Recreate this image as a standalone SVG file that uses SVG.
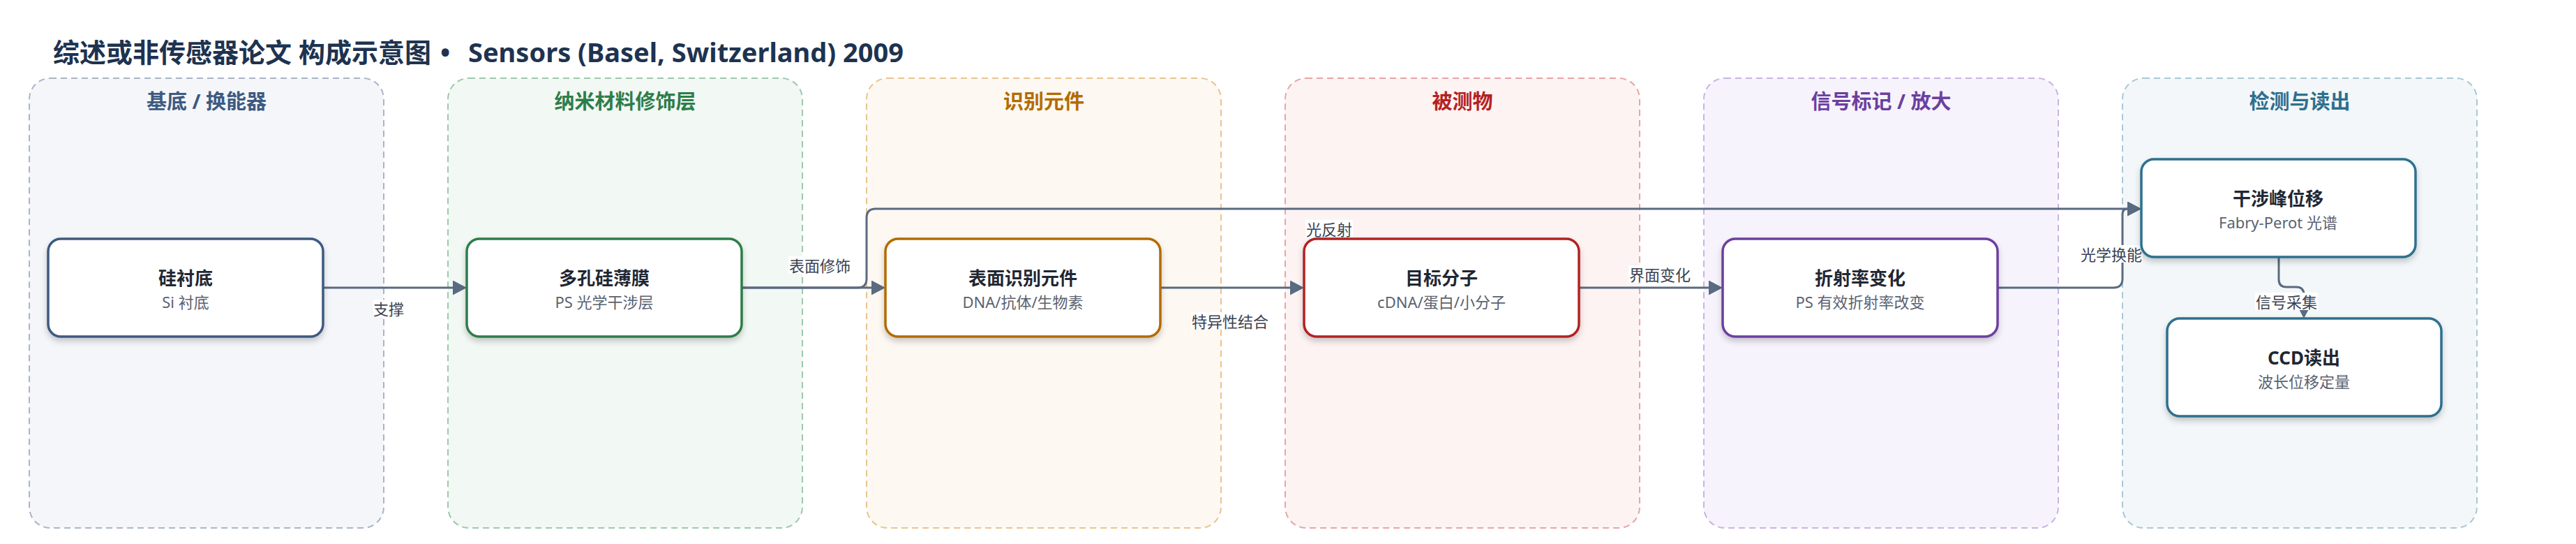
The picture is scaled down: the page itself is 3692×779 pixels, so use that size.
<svg xmlns="http://www.w3.org/2000/svg" width="3692" height="779" viewBox="0 0 3692 779">
<defs>
<style>
text{font-family:"Noto Sans","Noto Sans CJK SC",sans-serif;}
.title{font-size:38px;font-weight:700;fill:#1e3350;}
.gt{font-size:29px;font-weight:700;text-anchor:middle;}
.grp{stroke-width:2;stroke-dasharray:9 6;}
.node{fill:#fff;stroke-width:3.5;filter:url(#sh);}
.nt{font-size:26px;font-weight:700;fill:#1f2733;text-anchor:middle;}
.ns{font-size:22px;fill:#5a6270;text-anchor:middle;}
.edge{fill:none;stroke:#5a6a80;stroke-width:3;marker-end:url(#arr);}
.lbg{fill:#fff;}
.lt{font-size:22px;fill:#3a4250;text-anchor:middle;}
</style>
<filter id="sh" x="-10%" y="-20%" width="120%" height="150%">
<feDropShadow dx="0" dy="5" stdDeviation="4" flood-color="#000" flood-opacity="0.2"/>
</filter>
<marker id="arr" markerUnits="userSpaceOnUse" markerWidth="21" markerHeight="22" refX="0" refY="10.5" orient="auto">
<path d="M0,0 L20,10.5 L0,21 z" fill="#5a6a80"/>
</marker>
</defs>
<rect width="3692" height="779" fill="#fff"/>
<text class="title" x="76" y="89">综述或非传感器论文 构成示意图<tspan x="631">•</tspan><tspan x="671">Sensors (Basel, Switzerland) 2009</tspan></text>

<g id="group-substrate">
<rect class="grp" x="42" y="112" width="508" height="644" rx="30" fill="#f4f6fa" stroke="#a9b5c7"/>
<text class="gt" x="296" y="156" fill="#3d5a80">基底 / 换能器</text>
</g>
<g id="group-nano">
<rect class="grp" x="642" y="112" width="508" height="644" rx="30" fill="#f2f8f4" stroke="#9cc9ad"/>
<text class="gt" x="896" y="156" fill="#2e7d4a">纳米材料修饰层</text>
</g>
<g id="group-recog">
<rect class="grp" x="1242" y="112" width="508" height="644" rx="30" fill="#fdf8f1" stroke="#e8c490"/>
<text class="gt" x="1496" y="156" fill="#b36b00">识别元件</text>
</g>
<g id="group-analyte">
<rect class="grp" x="1842" y="112" width="508" height="644" rx="30" fill="#fdf3f3" stroke="#e8a5a5"/>
<text class="gt" x="2096" y="156" fill="#b22222">被测物</text>
</g>
<g id="group-signal">
<rect class="grp" x="2442" y="112" width="508" height="644" rx="30" fill="#f7f3fc" stroke="#c9b3e3"/>
<text class="gt" x="2696" y="156" fill="#6b3fa0">信号标记 / 放大</text>
</g>
<g id="group-detect">
<rect class="grp" x="3042" y="112" width="508" height="644" rx="30" fill="#f3f7f9" stroke="#a9c8d5"/>
<text class="gt" x="3296" y="156" fill="#2e6f8e">检测与读出</text>
</g>

<g id="connectors">
<path class="edge" d="M463,412 H649"/>
<path class="edge" d="M1063,412 H1249"/>
<path class="edge" d="M1063,412 H1229 Q1242,412 1242,399 V312 Q1242,299 1255,299 H3049"/>
<path class="edge" d="M1663,412 H1849"/>
<path class="edge" d="M2263,412 H2449"/>
<path class="edge" d="M2863,412 H3029 Q3042,412 3042,399 V307 Q3042,299 3049,299"/>
<path class="edge" d="M3266,368 V400 Q3266,411 3277,411 H3291 Q3302,411 3302,422 V436"/>
<rect class="lbg" x="535" y="429" width="46" height="25"/>
<text class="lt" x="557" y="451">支撑</text>
<rect class="lbg" x="1130" y="367" width="90" height="25"/>
<text class="lt" x="1175" y="389">表面修饰</text>
<rect class="lbg" x="1707" y="447" width="112" height="25"/>
<text class="lt" x="1763" y="469">特异性结合</text>
<rect class="lbg" x="1871" y="315" width="68" height="25"/>
<text class="lt" x="1905" y="337">光反射</text>
<rect class="lbg" x="2334" y="380" width="90" height="25"/>
<text class="lt" x="2379" y="402">界面变化</text>
<rect class="lbg" x="2981" y="351" width="90" height="25"/>
<text class="lt" x="3026" y="373">光学换能</text>
<rect class="lbg" x="3232" y="419" width="90" height="25"/>
<text class="lt" x="3277" y="441">信号采集</text>
</g>

<g id="node-si">
<rect class="node" x="69" y="342" width="394" height="140" rx="18" stroke="#3d5a80"/>
<text class="nt" x="266" y="408">硅衬底</text>
<text class="ns" x="266" y="441">Si 衬底</text>
</g>
<g id="node-ps">
<rect class="node" x="669" y="342" width="394" height="140" rx="18" stroke="#2e7d4a"/>
<text class="nt" x="866" y="408">多孔硅薄膜</text>
<text class="ns" x="866" y="441">PS 光学干涉层</text>
</g>
<g id="node-recog">
<rect class="node" x="1269" y="342" width="394" height="140" rx="18" stroke="#b36b00"/>
<text class="nt" x="1466" y="408">表面识别元件</text>
<text class="ns" x="1466" y="441">DNA/抗体/生物素</text>
</g>
<g id="node-target">
<rect class="node" x="1869" y="342" width="394" height="140" rx="18" stroke="#b22222"/>
<text class="nt" x="2066" y="408">目标分子</text>
<text class="ns" x="2066" y="441">cDNA/蛋白/小分子</text>
</g>
<g id="node-ri">
<rect class="node" x="2469" y="342" width="394" height="140" rx="18" stroke="#6b3fa0"/>
<text class="nt" x="2666" y="408">折射率变化</text>
<text class="ns" x="2666" y="441">PS 有效折射率改变</text>
</g>
<g id="node-shift">
<rect class="node" x="3069" y="228" width="393" height="140" rx="18" stroke="#2e6f8e"/>
<text class="nt" x="3265" y="294">干涉峰位移</text>
<text class="ns" x="3265" y="327">Fabry-Perot 光谱</text>
</g>
<g id="node-ccd">
<rect class="node" x="3106" y="456" width="393" height="140" rx="18" stroke="#2e6f8e"/>
<text class="nt" x="3302" y="522">CCD读出</text>
<text class="ns" x="3302" y="555">波长位移定量</text>
</g>
</svg>
